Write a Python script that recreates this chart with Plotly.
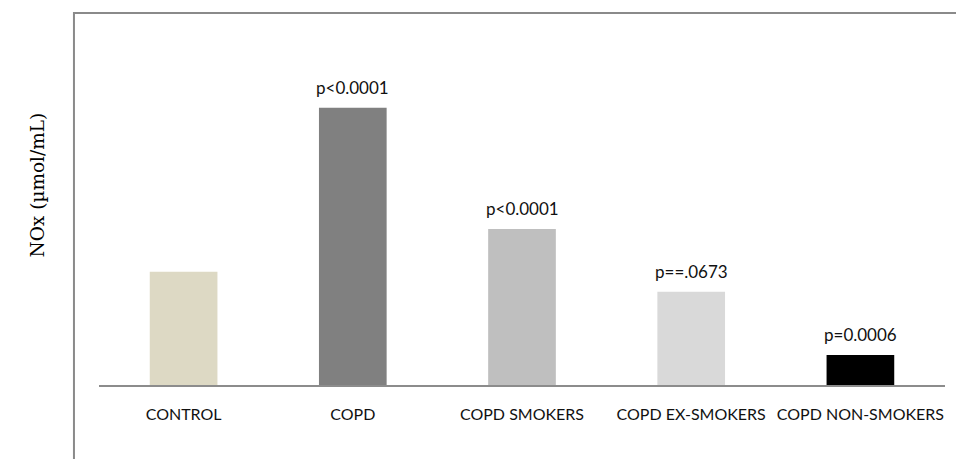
import plotly.graph_objects as go

# NOx levels per study group (bar heights) and significance labels
groups = ["CONTROL", "COPD", "COPD SMOKERS", "COPD EX-SMOKERS", "COPD NON-SMOKERS"]
nox_values = [28.3, 69.3, 39.0, 23.3, 7.5]
p_labels = ["", "p<0.0001", "p<0.0001", "p==.0673", "p=0.0006"]
bar_colors = ["#ddd9c4", "#808080", "#bfbfbf", "#d9d9d9", "#000000"]

p_font = dict(family="Lato, Open Sans, sans-serif", size=17, color="#111111")
cat_font = dict(family="Lato, Open Sans, sans-serif", size=16, color="#111111")

fig = go.Figure(
    go.Bar(
        x=groups,
        y=nox_values,
        marker=dict(color=bar_colors, line=dict(width=0)),
        hoverinfo="x+y",
    )
)

# significance labels above bars
for g, v, p in zip(groups, nox_values, p_labels):
    if p:
        fig.add_annotation(
            x=g, y=v, text=p, showarrow=False, yanchor="bottom",
            yshift=8, font=p_font,
        )

# y-axis title
fig.add_annotation(
    xref="paper", yref="paper", x=-0.0875, y=0.5376,
    text="NOx (µmol/mL)", textangle=-90, showarrow=False,
    font=dict(family="DejaVu Serif, serif", size=18.5, color="#000000"),
)

# outer frame (left and top edges, running off the page)
fig.add_shape(
    type="path", xref="paper", yref="paper",
    path="M 1.05 1 L -0.0296 1 L -0.0296 -0.3",
    line=dict(color="#8a8a8a", width=2),
)

fig.update_layout(
    width=956, height=459,
    margin=dict(l=99, r=11, t=13, b=74, autoexpand=False),
    paper_bgcolor="white", plot_bgcolor="white",
    bargap=0.6,
    showlegend=False,
    xaxis=dict(
        showline=True, linecolor="#8c8c8c", linewidth=2,
        showgrid=False, zeroline=False, automargin=False,
        tickangle=0,
        ticks="outside", ticklen=14, tickcolor="rgba(0,0,0,0)",
        tickfont=cat_font,
    ),
    yaxis=dict(
        range=[0, 93], showticklabels=False, showgrid=False,
        zeroline=False, showline=False, ticks="", automargin=False,
    ),
)

fig.write_html("out.html")
